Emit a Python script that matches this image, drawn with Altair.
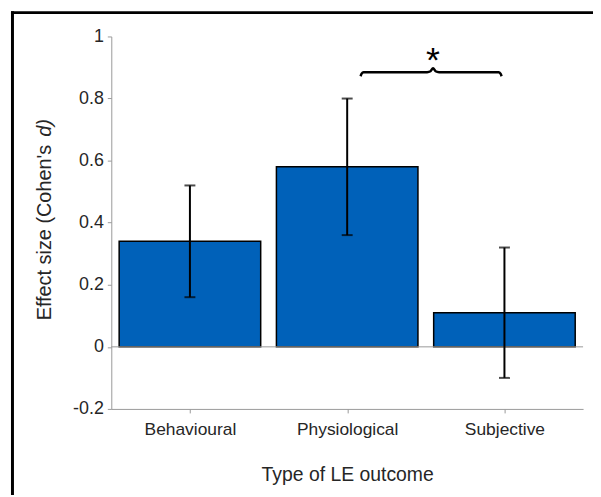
import altair as alt
import pandas as pd

categories = ["Behavioural", "Physiological", "Subjective"]
effect = [0.34, 0.58, 0.11]
ci_low = [0.16, 0.36, -0.10]
ci_high = [0.52, 0.80, 0.32]

brace_x = [1.085, 1.092, 1.104, 1.508, 1.530, 1.546, 1.562, 1.584, 1.963, 1.975, 1.982]
brace_y = [0.872, 0.880, 0.885, 0.885, 0.888, 0.898, 0.888, 0.885, 0.885, 0.880, 0.872]
star_x = [1.546]
star_y = [0.886]

y_ticks = [-0.2, 0, 0.2, 0.4, 0.6, 0.8, 1]

TXT = "#262626"
AX = "#999999"
FONT = "Liberation Sans"

df = pd.DataFrame({"i": list(range(len(categories))), "cat": categories,
                   "v": effect, "lo": ci_low, "hi": ci_high})
df["x1"] = df["i"] - 0.45
df["x2"] = df["i"] + 0.45

brace = pd.DataFrame({"bx": brace_x, "by": brace_y, "o": list(range(len(brace_x)))})
star = pd.DataFrame({"sx": star_x, "sy": star_y, "t": ["*"]})

label_expr = "[" + ",".join("'" + c + "'" for c in categories) + "][datum.value]"

xscale = alt.Scale(domain=[-0.5, 2.5], nice=False, zero=False)
yscale = alt.Scale(domain=[-0.2, 1], nice=False, zero=False)

base = alt.Chart(df)

bars = base.mark_bar(color="#0061B9", stroke="black", strokeWidth=1.5).encode(
    x=alt.X("x1:Q", scale=xscale, axis=alt.Axis(
        values=[0, 1, 2], labelExpr=label_expr, title="Type of LE outcome",
        grid=False, domainColor=AX, tickColor=AX, tickSize=4, labelFontSize=17.5,
        labelColor=TXT, labelFont=FONT, labelPadding=8, titleFontSize=19.5,
        titleFont=FONT, titleColor=TXT, titleFontWeight="normal", titlePadding=28)),
    x2="x2:Q",
    y=alt.Y("v:Q", scale=yscale, axis=alt.Axis(
        values=y_ticks, labelExpr="'' + round(datum.value*10)/10", title=None,
        grid=False, domainColor=AX, tickColor=AX, tickSize=4, labelFontSize=18,
        labelColor=TXT, labelFont=FONT, labelPadding=4)),
    y2=alt.datum(0),
)

zero_line = alt.Chart(pd.DataFrame({"z": [0]})).mark_rule(color=AX, strokeWidth=1).encode(
    y=alt.Y("z:Q", scale=yscale), x=alt.value(0), x2=alt.value(475))

err = base.mark_rule(color="black", strokeWidth=2).encode(
    x=alt.X("i:Q", scale=xscale), y=alt.Y("lo:Q", scale=yscale), y2="hi:Q")
cap_lo = base.mark_tick(color="black", orient="horizontal", size=11, thickness=2).encode(
    x=alt.X("i:Q", scale=xscale), y=alt.Y("lo:Q", scale=yscale))
cap_hi = base.mark_tick(color="black", orient="horizontal", size=11, thickness=2).encode(
    x=alt.X("i:Q", scale=xscale), y=alt.Y("hi:Q", scale=yscale))

brace_line = alt.Chart(brace).mark_line(color="black", strokeWidth=2.5, interpolate="monotone").encode(
    x=alt.X("bx:Q", scale=xscale), y=alt.Y("by:Q", scale=yscale), order="o:Q")

star_text = alt.Chart(star).mark_text(fontSize=36, font=FONT, color="black", baseline="alphabetic").encode(
    x=alt.X("sx:Q", scale=xscale), y=alt.Y("sy:Q", scale=yscale), text="t:N")

ytitle1 = alt.Chart(pd.DataFrame({"t": ["Effect size (Cohen's"]})).mark_text(
    angle=270, align="right", baseline="middle", fontSize=20, font=FONT, color=TXT).encode(
    x=alt.value(-67), y=alt.value(109), text="t:N")
ytitle2 = alt.Chart(pd.DataFrame({"t": ["d)"]})).mark_text(
    angle=270, align="left", baseline="middle", fontSize=20, font=FONT, color=TXT,
    fontStyle="italic").encode(
    x=alt.value(-67), y=alt.value(101), text="t:N")

frame_top = alt.Chart(pd.DataFrame({"a": [0]})).mark_rule(color="black", strokeWidth=3).encode(
    x=alt.value(-101), x2=alt.value(600), y=alt.value(-24))
frame_left = alt.Chart(pd.DataFrame({"a": [0]})).mark_rule(color="black", strokeWidth=3).encode(
    x=alt.value(-99.5), y=alt.value(-25.5), y2=alt.value(600))

chart = alt.layer(
    bars, zero_line, err, cap_lo, cap_hi, brace_line, star_text, ytitle1, ytitle2,
    frame_top, frame_left
).properties(
    width=475, height=375,
    padding={"left": 104, "top": 27, "right": 10, "bottom": 85},
    autosize=alt.AutoSizeParams(type="none"),
).configure_view(stroke=None)

chart.save("out.html", embed_options={"renderer": "svg", "actions": False})
